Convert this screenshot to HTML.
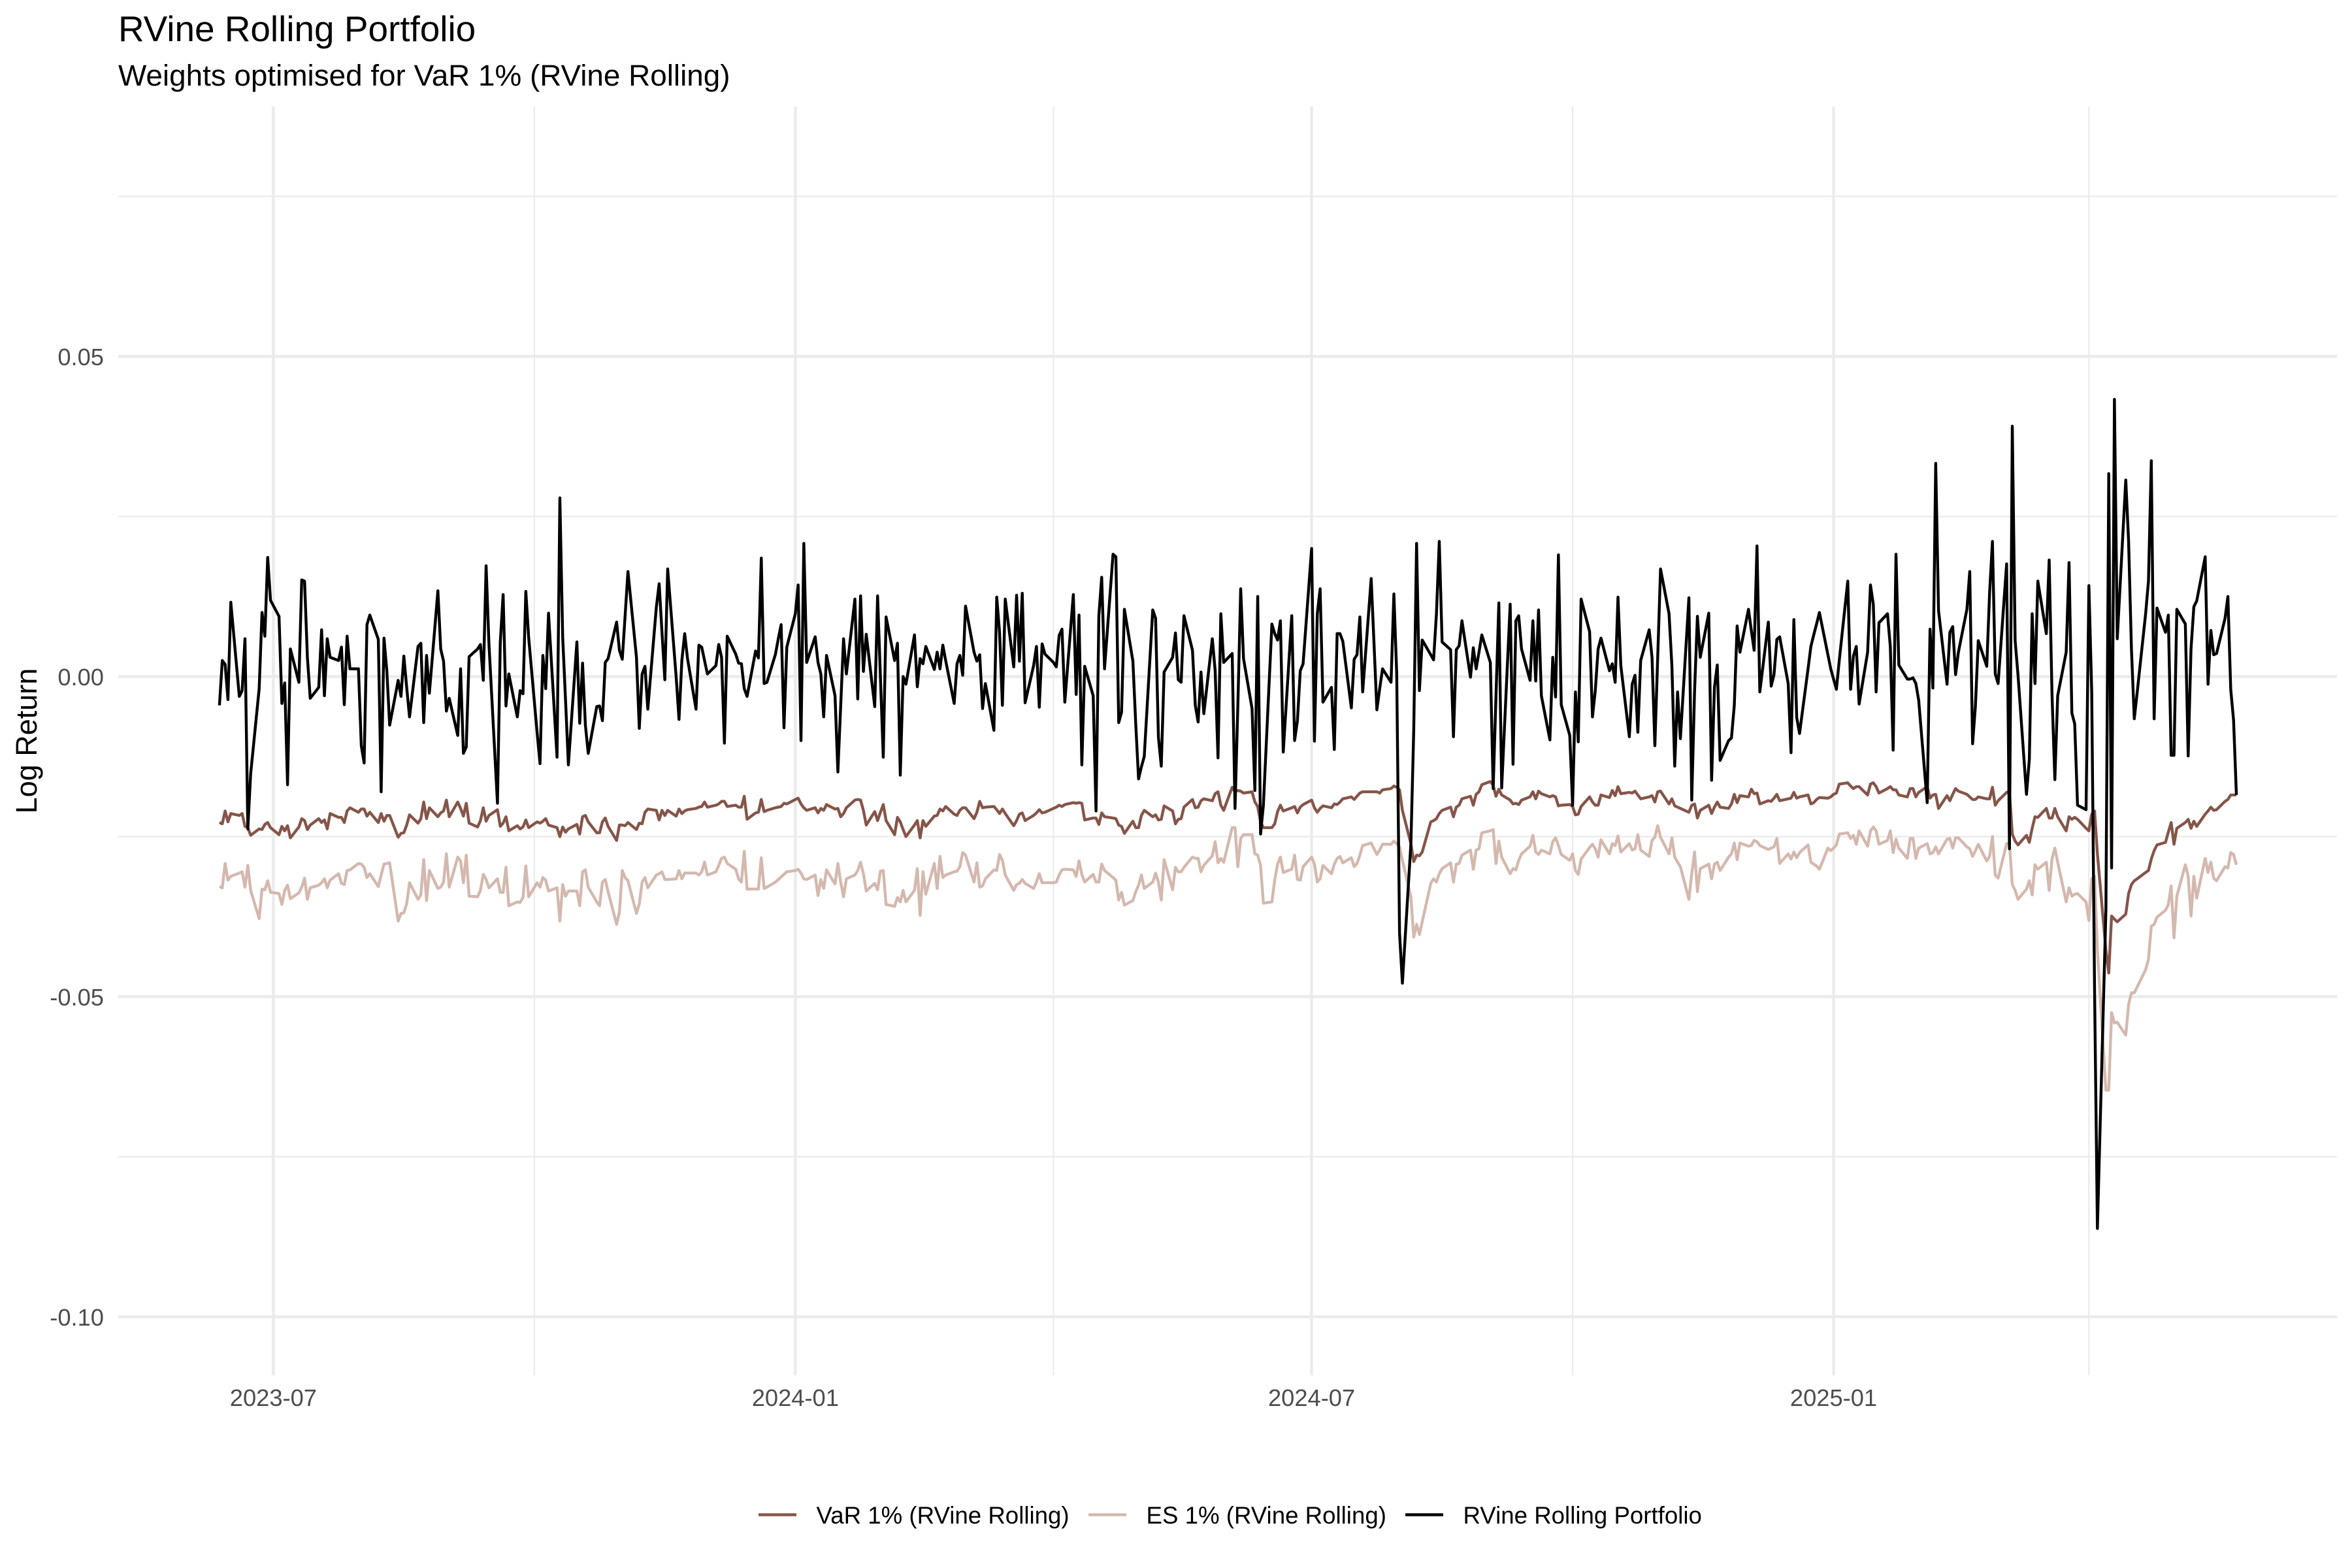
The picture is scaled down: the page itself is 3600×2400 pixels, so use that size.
<!DOCTYPE html>
<html lang="en">
<head>
<meta charset="utf-8">
<title>RVine Rolling Portfolio</title>
<style>
html,body{margin:0;padding:0;background:#fff}
svg{display:block;font-family:"Liberation Sans",Arial,Helvetica,sans-serif}
</style>
</head>
<body>
<svg id="chart" xmlns="http://www.w3.org/2000/svg" width="3600" height="2400" viewBox="0 0 3600 2400">
<rect x="0" y="0" width="3600" height="2400" fill="#ffffff"/>
<g id="grid"></g>
<g id="series"></g>
<g id="ticks"></g>
<text x="181" y="63" font-size="54.9" fill="#000">RVine Rolling Portfolio</text>
<text x="181" y="131" font-size="45.84" fill="#000">Weights optimised for VaR 1% (RVine Rolling)</text>
<text transform="translate(56 1134) rotate(-90)" text-anchor="middle" font-size="45" fill="#000">Log Return</text>
<g>
<line x1="1161" x2="1219" y1="2318.5" y2="2318.5" stroke="#855549" stroke-width="4.4"/>
<text x="1249.5" y="2332" font-size="36.67" fill="#000">VaR 1% (RVine Rolling)</text>
<line x1="1666" x2="1724" y1="2318.5" y2="2318.5" stroke="#d4b8ae" stroke-width="4.4"/>
<text x="1754.5" y="2332" font-size="36.67" fill="#000">ES 1% (RVine Rolling)</text>
<line x1="2151" x2="2209" y1="2318.5" y2="2318.5" stroke="#000" stroke-width="4.4"/>
<text x="2239.5" y="2332" font-size="36.67" fill="#000">RVine Rolling Portfolio</text>
</g>
</svg>
<script>
// Values are log returns in units of 0.0001, one per weekday starting at firstDate.
const firstDate = "2023-06-12";
const valueUnit = 0.0001;
const portfolio = [
-45,25,19,-36,116,-31,-22,59,-238,-152,-19,100,63,186,119,94,-42,-10,-169,43,-9,151,149,30,-34,-17,73,-30,59,30,
25,46,-44,63,12,12,-108,-135,81,96,58,-180,60,9,-76,-6,-31,32,-17,-63,47,52,-72,33,-26,134,43,24,-54,-34,
-92,12,-120,-110,31,43,50,-6,173,51,-198,54,128,-46,4,-63,-22,-27,133,61,-89,-136,33,-19,99,-126,279,61,-37,-138,
54,-73,21,-76,-120,-47,-46,-69,22,28,85,41,27,95,164,30,-81,4,16,-51,108,145,69,-5,168,-1,-67,25,67,28,
-51,49,46,25,4,17,50,30,-104,63,35,21,20,-19,-31,40,29,185,-11,-9,35,59,81,-80,46,98,143,-100,208,22,
62,22,4,-63,33,-30,-149,-45,59,4,121,-35,126,8,66,-47,126,-1,-126,93,25,52,-154,0,-12,65,-16,28,20,47,
11,38,12,49,25,-42,20,33,2,110,38,24,34,-50,-11,-84,124,69,-45,121,15,127,24,130,-41,17,47,-48,51,35,
22,15,64,74,-40,128,-28,96,-138,16,-30,-210,95,155,12,191,187,-72,-56,105,24,-74,-160,-141,-125,104,91,-95,-140,7,
30,68,-5,-9,95,41,-45,-71,7,-58,59,9,-127,98,22,36,-206,-45,137,28,-50,-178,125,-246,-201,82,67,57,87,-118,
95,-100,-69,9,20,200,-101,98,137,-40,-17,-114,67,67,55,-49,27,34,93,-24,153,51,-52,-19,12,-9,129,4,-401,-479,
-261,-84,208,-22,57,34,26,98,211,54,42,-94,42,48,87,-1,45,12,38,65,22,-175,-30,115,-174,113,-137,87,95,43,
-6,87,-7,104,-30,-99,30,-32,190,-44,-92,-201,-24,-102,121,70,-63,-22,43,60,9,20,-9,124,17,-94,-12,2,-87,25,
73,30,-108,30,168,98,17,-140,-24,-97,123,-193,-22,94,30,99,-162,-17,18,-131,-100,-96,-45,79,38,105,72,41,204,-24,
85,-15,3,58,62,-11,-119,89,-64,-89,12,47,65,82,100,34,12,-4,-20,25,149,-20,32,47,-43,38,143,113,-24,84,
98,47,-115,191,18,-4,-4,-2,-11,-37,-197,74,-18,333,103,-12,69,78,3,38,105,164,-105,-46,56,16,131,211,4,-11,
176,-269,391,56,3,-184,-130,98,-11,149,67,182,-28,-161,-30,38,178,-57,-74,-201,-208,142,-24,-489,-862,-365,317,-299,433,59,
307,211,43,-66,-26,98,149,337,-66,107,69,96,-123,-123,105,82,-124,43,109,118,187,-12,72,34,36,91,125,-20,-68,-185
];
const var1 = [
-228,-230,-210,-227,-214,-217,-214,-234,-236,-248,-238,-239,-231,-228,-236,-247,-234,-241,-233,-252,-235,-222,-225,-239,-232,-222,-228,-224,-238,-214,
-220,-220,-228,-210,-205,-212,-207,-207,-218,-212,-228,-214,-226,-217,-217,-251,-245,-244,-232,-216,-229,-222,-196,-222,-205,-219,-213,-210,-193,-219,
-196,-206,-218,-198,-229,-235,-225,-205,-226,-217,-208,-234,-229,-219,-241,-233,-238,-235,-224,-236,-227,-229,-226,-222,-232,-236,-250,-235,-243,-238,
-231,-246,-219,-217,-227,-244,-244,-227,-221,-234,-256,-232,-232,-233,-228,-239,-229,-230,-212,-207,-209,-224,-209,-217,-209,-218,-207,-214,-210,-208,
-206,-204,-203,-196,-204,-201,-199,-195,-195,-203,-201,-204,-204,-187,-223,-213,-212,-192,-211,-209,-205,-204,-203,-198,-199,-192,-190,-199,-205,-209,
-205,-213,-206,-209,-200,-207,-206,-219,-214,-205,-193,-192,-193,-209,-232,-211,-225,-212,-200,-225,-247,-220,-227,-239,-250,-232,-225,-252,-225,-234,
-218,-217,-207,-210,-203,-215,-217,-209,-205,-205,-222,-212,-195,-205,-204,-203,-208,-214,-207,-214,-233,-225,-215,-213,-225,-217,-213,-208,-213,-212,
-206,-204,-201,-203,-200,-197,-198,-197,-198,-224,-221,-221,-231,-213,-219,-221,-222,-232,-234,-245,-226,-236,-236,-217,-209,-219,-216,-224,-223,-202,
-210,-230,-223,-222,-204,-192,-205,-204,-194,-191,-194,-183,-180,-201,-209,-173,-180,-178,-179,-182,-180,-196,-203,-227,-236,-236,-230,-211,-201,-210,
-205,-203,-213,-204,-200,-193,-205,-212,-206,-202,-205,-199,-200,-196,-191,-188,-192,-187,-182,-180,-180,-180,-180,-182,-177,-175,-171,-173,-177,-209,
-261,-289,-279,-280,-274,-227,-225,-222,-214,-209,-204,-219,-204,-201,-191,-187,-201,-184,-180,-169,-164,-170,-187,-176,-185,-193,-199,-198,-200,-193,
-188,-180,-191,-179,-183,-188,-186,-188,-202,-201,-200,-203,-216,-215,-203,-188,-196,-201,-201,-185,-189,-178,-186,-172,-183,-181,-182,-179,-185,-191,
-188,-186,-196,-180,-179,-199,-191,-202,-204,-206,-212,-201,-199,-221,-209,-201,-214,-204,-196,-204,-206,-199,-184,-197,-186,-188,-176,-183,-182,-199,
-194,-195,-190,-184,-194,-191,-190,-181,-190,-188,-185,-199,-197,-192,-189,-190,-188,-184,-182,-168,-166,-171,-175,-172,-172,-185,-168,-166,-172,-182,
-175,-172,-177,-177,-185,-188,-175,-175,-188,-181,-172,-190,-185,-184,-206,-186,-194,-184,-175,-179,-184,-188,-192,-192,-188,-191,-191,-173,-201,-194,
-181,-179,-246,-257,-263,-248,-259,-237,-219,-220,-206,-221,-221,-206,-219,-241,-219,-223,-220,-223,-237,-241,-215,-210,-277,-427,-463,-374,-379,-383,
-371,-339,-325,-319,-316,-306,-303,-285,-272,-263,-259,-243,-228,-262,-237,-228,-223,-237,-226,-234,-215,-210,-204,-209,-208,-195,-192,-185,-185,-185
];
const es1 = [
-328,-330,-292,-318,-312,-307,-305,-329,-295,-334,-378,-332,-333,-319,-337,-339,-356,-334,-326,-347,-338,-329,-315,-348,-330,-326,-322,-316,-330,-318,
-308,-323,-325,-303,-302,-292,-293,-298,-314,-308,-328,-310,-293,-292,-291,-382,-370,-369,-355,-322,-348,-341,-286,-350,-303,-331,-329,-321,-277,-329,
-282,-288,-322,-279,-343,-344,-334,-309,-317,-330,-316,-337,-337,-298,-358,-352,-353,-345,-296,-344,-322,-329,-314,-318,-335,-330,-382,-325,-343,-335,
-335,-358,-305,-302,-329,-352,-358,-321,-317,-336,-387,-368,-303,-314,-319,-370,-355,-321,-314,-330,-310,-308,-305,-317,-317,-316,-303,-316,-307,-307,
-307,-310,-305,-290,-310,-305,-295,-284,-282,-292,-301,-316,-321,-273,-332,-332,-332,-283,-331,-329,-321,-317,-313,-309,-305,-303,-301,-307,-316,-317,
-310,-342,-317,-331,-302,-324,-292,-321,-344,-316,-310,-303,-290,-308,-335,-323,-333,-304,-303,-356,-359,-345,-352,-334,-352,-334,-300,-373,-305,-340,
-292,-331,-281,-314,-310,-305,-304,-297,-275,-279,-321,-291,-329,-327,-316,-302,-303,-278,-287,-310,-334,-325,-323,-317,-323,-331,-321,-308,-322,-322,
-322,-321,-310,-302,-301,-302,-312,-288,-309,-321,-309,-321,-321,-293,-303,-314,-318,-349,-337,-357,-350,-336,-326,-310,-331,-321,-307,-321,-349,-286,
-333,-298,-305,-305,-298,-282,-284,-284,-305,-295,-280,-258,-291,-284,-290,-236,-236,-297,-253,-247,-247,-277,-279,-295,-354,-352,-318,-293,-282,-306,
-301,-279,-317,-318,-297,-282,-293,-321,-316,-295,-308,-293,-284,-281,-291,-283,-297,-292,-279,-264,-260,-269,-278,-271,-262,-262,-257,-261,-266,-287,
-344,-407,-387,-403,-383,-323,-316,-321,-308,-300,-291,-321,-293,-292,-279,-271,-301,-271,-269,-244,-241,-239,-292,-257,-282,-308,-300,-302,-287,-277,
-265,-248,-274,-278,-271,-277,-258,-252,-264,-278,-287,-277,-303,-309,-285,-267,-262,-269,-282,-255,-277,-261,-264,-249,-274,-261,-271,-269,-247,-271,
-281,-256,-251,-233,-251,-277,-252,-282,-290,-297,-348,-308,-274,-336,-300,-293,-316,-293,-290,-303,-282,-277,-260,-286,-260,-265,-264,-256,-258,-264,
-270,-268,-266,-253,-292,-277,-285,-274,-283,-275,-263,-290,-293,-296,-301,-268,-272,-268,-263,-246,-244,-253,-248,-262,-241,-265,-241,-235,-241,-262,
-256,-241,-275,-254,-268,-284,-253,-253,-284,-268,-261,-277,-275,-266,-277,-254,-253,-268,-252,-252,-266,-269,-281,-272,-262,-288,-281,-250,-310,-315,
-261,-261,-325,-334,-348,-332,-319,-341,-294,-301,-290,-334,-285,-268,-290,-352,-330,-343,-340,-339,-352,-381,-316,-312,-427,-646,-646,-525,-541,-540,
-560,-512,-494,-494,-485,-458,-442,-390,-387,-376,-365,-356,-327,-408,-343,-294,-312,-374,-312,-346,-284,-306,-290,-315,-319,-297,-299,-275,-278,-294
];
const yMajorTicks = [0.05, 0, -0.05, -0.10];
const yMinorTicks = [0.075, 0.025, -0.025, -0.075];
const yTickLabels = ["0.05", "0.00", "-0.05", "-0.10"];
const xMajorTicks = ["2023-07-01", "2024-01-01", "2024-07-01", "2025-01-01"];
const xMinorTicks = ["2023-10-01", "2024-04-01", "2024-10-01", "2025-04-01"];
const xTickLabels = ["2023-07", "2024-01", "2024-07", "2025-01"];

const NS = "http://www.w3.org/2000/svg";
const DAY = 86400000;
const day = function (s) { return Date.parse(s + "T00:00:00Z") / DAY; };
const x0Day = day("2023-07-01");
const xScale = function (d) { return 418.4 + (d - x0Day) * 4.342; };
const yScale = function (v) { return 1035.5 - v * 9800; };
const panel = { left: 181, right: 3577, top: 163, bottom: 2105 };

const dates = [];
for (let d = day(firstDate); dates.length < portfolio.length; d++) {
  const w = new Date(d * DAY).getUTCDay();
  if (w !== 0 && w !== 6) dates.push(d);
}

const gridG = document.getElementById("grid");
const seriesG = document.getElementById("series");
const ticksG = document.getElementById("ticks");

function gridLine(x1, y1, x2, y2, width, name) {
  const l = document.createElementNS(NS, "line");
  l.setAttribute("x1", x1);
  l.setAttribute("y1", y1);
  l.setAttribute("x2", x2);
  l.setAttribute("y2", y2);
  l.setAttribute("stroke", "#ebebeb");
  l.setAttribute("stroke-width", width);
  
  
  gridG.appendChild(l);
}
yMinorTicks.forEach(function (v) { gridLine(panel.left, yScale(v), panel.right, yScale(v), 2.2, "y-minor-gridline"); });
xMinorTicks.forEach(function (s) { gridLine(xScale(day(s)), panel.top, xScale(day(s)), panel.bottom, 2.2, "x-minor-gridline"); });
yMajorTicks.forEach(function (v) { gridLine(panel.left, yScale(v), panel.right, yScale(v), 4.4, "y-major-gridline"); });
xMajorTicks.forEach(function (s) { gridLine(xScale(day(s)), panel.top, xScale(day(s)), panel.bottom, 4.4, "x-major-gridline"); });

function drawSeries(values, color, name) {
  let d = "";
  values.forEach(function (v, i) {
    d += (i ? "L" : "M") + xScale(dates[i]).toFixed(2) + " " + yScale(v * valueUnit).toFixed(2);
  });
  const p = document.createElementNS(NS, "path");
  p.setAttribute("d", d);
  p.setAttribute("fill", "none");
  p.setAttribute("stroke", color);
  p.setAttribute("stroke-width", "4.4");
  p.setAttribute("stroke-linejoin", "round");
  
  
  seriesG.appendChild(p);
}
drawSeries(var1, "#855549", "line-var-1pct");
drawSeries(es1, "#d4b8ae", "line-es-1pct");
drawSeries(portfolio, "#000000", "line-portfolio");

function tickText(x, y, anchor, str, name) {
  const t = document.createElementNS(NS, "text");
  t.setAttribute("x", x);
  t.setAttribute("y", y);
  t.setAttribute("text-anchor", anchor);
  t.setAttribute("font-size", "36.3");
  t.setAttribute("fill", "#4d4d4d");
  
  
  t.textContent = str;
  ticksG.appendChild(t);
}
yMajorTicks.forEach(function (v, i) { tickText(159, yScale(v) + 13.5, "end", yTickLabels[i], "y-tick-label"); });
xMajorTicks.forEach(function (s, i) { tickText(xScale(day(s)), 2152, "middle", xTickLabels[i], "x-tick-label"); });
</script>
</body>
</html>
